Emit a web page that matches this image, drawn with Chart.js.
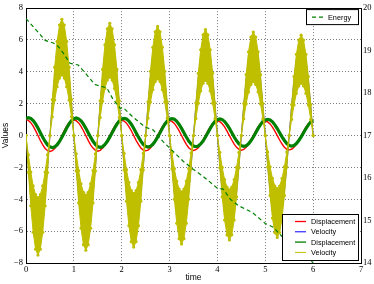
<!DOCTYPE html>
<html>
<head>
<meta charset="utf-8">
<script src="https://cdn.jsdelivr.net/npm/chart.js@4.4.0/dist/chart.umd.min.js"></script>
<style>
  html, body { margin: 0; padding: 0; background: #fff; }
  #wrap { width: 374px; height: 284px; }
</style>
</head>
<body>
<div id="wrap"><canvas id="chart" width="374" height="284"></canvas></div>
<script>
// sample times of the oscillator series
const time = [
  0,0.05,0.1,0.15,0.2,0.25,0.3,0.35,0.4,0.45,0.5,0.55,0.6,0.65,0.7,0.75,0.8,0.85,0.9,0.95,
  1,1.05,1.1,1.15,1.2,1.25,1.3,1.35,1.4,1.45,1.5,1.55,1.6,1.65,1.7,1.75,1.8,1.85,1.9,1.95,
  2,2.05,2.1,2.15,2.2,2.25,2.3,2.35,2.4,2.45,2.5,2.55,2.6,2.65,2.7,2.75,2.8,2.85,2.9,2.95,
  3,3.05,3.1,3.15,3.2,3.25,3.3,3.35,3.4,3.45,3.5,3.55,3.6,3.65,3.7,3.75,3.8,3.85,3.9,3.95,
  4,4.05,4.1,4.15,4.2,4.25,4.3,4.35,4.4,4.45,4.5,4.55,4.6,4.65,4.7,4.75,4.8,4.85,4.9,4.95,
  5,5.05,5.1,5.15,5.2,5.25,5.3,5.35,5.4,5.45,5.5,5.55,5.6,5.65,5.7,5.75,5.8,5.85,5.9,5.95,
  6
];

// red
const displacement = [
  1.00,0.95,0.81,0.59,0.31,0.00,-0.31,-0.59,-0.81,-0.95,-1.00,-0.95,-0.81,-0.59,-0.31,0.00,0.31,0.59,0.81,0.95,
  0.98,0.93,0.79,0.58,0.30,0.00,-0.30,-0.58,-0.79,-0.93,-0.98,-0.93,-0.79,-0.58,-0.30,0.00,0.30,0.58,0.79,0.93,
  0.96,0.91,0.78,0.56,0.30,0.00,-0.30,-0.56,-0.78,-0.91,-0.96,-0.91,-0.78,-0.56,-0.30,0.00,0.30,0.56,0.78,0.91,
  0.94,0.89,0.76,0.55,0.29,0.00,-0.29,-0.55,-0.76,-0.89,-0.94,-0.89,-0.76,-0.55,-0.29,0.00,0.29,0.55,0.76,0.89,
  0.92,0.87,0.74,0.54,0.28,0.00,-0.28,-0.54,-0.74,-0.87,-0.92,-0.87,-0.74,-0.54,-0.28,0.00,0.28,0.54,0.74,0.87,
  0.90,0.86,0.73,0.53,0.28,0.00,-0.28,-0.53,-0.73,-0.86,-0.90,-0.86,-0.73,-0.53,-0.28,0.00,0.28,0.53,0.73,0.86,
  0.89
];

// blue
const velocity = [
  0,-1.98,-3.76,-5.18,-6.09,-6.40,-6.09,-5.18,-3.76,-1.98,0,1.98,3.76,5.18,6.09,6.40,6.09,5.18,3.76,1.98,
  0,-1.95,-3.70,-5.10,-5.99,-6.30,-5.99,-5.10,-3.70,-1.95,0,1.95,3.70,5.10,5.99,6.30,5.99,5.10,3.70,1.95,
  0,-1.92,-3.65,-5.02,-5.90,-6.20,-5.90,-5.02,-3.65,-1.92,0,1.92,3.65,5.02,5.90,6.20,5.90,5.02,3.65,1.92,
  0,-1.88,-3.59,-4.93,-5.80,-6.10,-5.80,-4.93,-3.59,-1.88,0,1.88,3.59,4.93,5.80,6.10,5.80,4.93,3.59,1.88,
  0,-1.85,-3.53,-4.85,-5.71,-6.00,-5.71,-4.85,-3.53,-1.85,0,1.85,3.53,4.85,5.71,6.00,5.71,4.85,3.53,1.85,
  0,-1.82,-3.47,-4.77,-5.61,-5.90,-5.61,-4.77,-3.47,-1.82,0,1.82,3.47,4.77,5.61,5.90,5.61,4.77,3.47,1.82,
  0
];

// green (thick, with markers)
const displacementNum = [
  1.07,1.12,1.07,0.94,0.73,0.47,0.18,-0.11,-0.37,-0.58,-0.71,-0.76,-0.71,-0.58,-0.37,-0.11,0.18,0.47,0.73,0.94,
  1.05,1.10,1.05,0.92,0.72,0.46,0.18,-0.10,-0.36,-0.56,-0.70,-0.74,-0.70,-0.56,-0.36,-0.10,0.18,0.46,0.72,0.92,
  1.04,1.08,1.04,0.91,0.71,0.46,0.18,-0.10,-0.35,-0.55,-0.68,-0.72,-0.68,-0.55,-0.35,-0.10,0.18,0.46,0.71,0.91,
  1.02,1.06,1.02,0.89,0.70,0.45,0.18,-0.09,-0.34,-0.53,-0.66,-0.70,-0.66,-0.53,-0.34,-0.09,0.18,0.45,0.70,0.89,
  1.00,1.04,1.00,0.88,0.69,0.45,0.18,-0.09,-0.33,-0.52,-0.64,-0.68,-0.64,-0.52,-0.33,-0.09,0.18,0.45,0.69,0.88,
  0.98,1.02,0.98,0.86,0.67,0.44,0.18,-0.08,-0.31,-0.50,-0.62,-0.66,-0.62,-0.50,-0.31,-0.08,0.18,0.44,0.67,0.86,
  0.98
];

// yellow noisy velocity: outer and inner edge of the band
const velocityNumOuter = [
  0,-2.32,-4.41,-6.07,-7.13,-7.50,-7.13,-6.07,-4.41,-2.32,0,2.26,4.29,5.91,6.94,7.30,6.94,5.91,4.29,2.26,
  0,-2.22,-4.23,-5.82,-6.85,-7.20,-6.85,-5.82,-4.23,-2.22,0,2.18,4.15,5.70,6.70,7.05,6.70,5.70,4.15,2.18,
  0,-2.16,-4.12,-5.66,-6.66,-7.00,-6.66,-5.66,-4.12,-2.16,0,2.12,4.03,5.54,6.51,6.85,6.51,5.54,4.03,2.12,
  0,-2.10,-4.00,-5.50,-6.47,-6.80,-6.47,-5.50,-4.00,-2.10,0,2.05,3.91,5.38,6.32,6.65,6.32,5.38,3.91,2.05,
  0,-2.02,-3.85,-5.30,-6.23,-6.55,-6.23,-5.30,-3.85,-2.02,0,2.01,3.82,5.26,6.18,6.50,6.18,5.26,3.82,2.01,
  0,-1.98,-3.76,-5.18,-6.09,-6.40,-6.09,-5.18,-3.76,-1.98,0,1.95,3.70,5.10,5.99,6.30,5.99,5.10,3.70,1.95,
  0
];
const velocityNumInner = [
  0,-1.21,-2.29,-3.16,-3.71,-3.90,-3.71,-3.16,-2.29,-1.21,0,1.18,2.23,3.07,3.61,3.80,3.61,3.07,2.23,1.18,
  0,-1.15,-2.20,-3.03,-3.56,-3.74,-3.56,-3.03,-2.20,-1.15,0,1.13,2.16,2.96,3.48,3.67,3.48,2.96,2.16,1.13,
  0,-1.12,-2.14,-2.94,-3.46,-3.64,-3.46,-2.94,-2.14,-1.12,0,1.10,2.10,2.88,3.39,3.56,3.39,2.88,2.10,1.10,
  0,-1.09,-2.08,-2.86,-3.36,-3.54,-3.36,-2.86,-2.08,-1.09,0,1.07,2.03,2.80,3.29,3.46,3.29,2.80,2.03,1.07,
  0,-1.05,-2.00,-2.76,-3.24,-3.41,-3.24,-2.76,-2.00,-1.05,0,1.05,1.99,2.74,3.21,3.38,3.21,2.74,1.99,1.05,
  0,-1.03,-1.96,-2.69,-3.17,-3.33,-3.17,-2.69,-1.96,-1.03,0,1.01,1.92,2.65,3.11,3.28,3.11,2.65,1.92,1.01,
  0
];

// energy on the right axis
const energyTime = [0,0.2,0.4,0.57,0.67,0.78,0.92,1.09,1.27,1.44,1.69,1.82,1.97,2.03,2.24,2.49,2.66,2.87,3.08,3.29,3.5,3.7,4.0,4.12,4.27,4.44,4.73,5.0,5.17,5.46,5.73,5.88,6.0];
const energy =     [19.75,19.5,19.24,19.18,19.1,18.94,18.7,18.66,18.43,18.2,18.12,17.85,17.64,17.66,17.43,17.2,17.13,16.85,16.62,16.39,16.2,16.04,15.76,15.74,15.5,15.35,15.19,14.93,14.84,14.49,14.35,14.14,14.0];

const xTicks = [0,1,2,3,4,5,6,7];
const yTicks = [-8,-6,-4,-2,0,2,4,6,8];
const y2Ticks = [14,15,16,17,18,19,20];

const RED = '#ff0000', BLUE = '#0000ff', GREEN = '#008000', YELLOW = '#bfbf00';

function pts(xs, ys) { return xs.map((x, i) => ({ x: x, y: ys[i] })); }
function minus(v) { return v < 0 ? '\u2212' + Math.abs(v) : String(v); }

const tickFont = { family: '"Liberation Serif", serif', size: 8.5 };
const labelFont = { family: '"Liberation Sans", Arial, sans-serif', size: 8.5 };
const dotted = { color: '#5a5a5a', lineWidth: 0.8 };

// two matplotlib style legend boxes
const legendBoxes = {
  id: 'legendBoxes',
  afterDraw(chart) {
    const ctx = chart.ctx;
    const a = chart.chartArea;
    const ds = chart.data.datasets;
    function box(x, y, w, h) {
      ctx.fillStyle = '#fff';
      ctx.fillRect(x, y, w, h);
      ctx.strokeStyle = '#000';
      ctx.lineWidth = 1;
      ctx.strokeRect(x + 0.5, y + 0.5, w, h);
    }
    function entry(d, x, y, text) {
      ctx.save();
      ctx.strokeStyle = d.borderColor;
      ctx.lineWidth = Math.min(d.borderWidth, 1.3);
      ctx.setLineDash(d.borderDash || []);
      ctx.beginPath();
      ctx.moveTo(x, y);
      ctx.lineTo(x + 11, y);
      ctx.stroke();
      ctx.restore();
      ctx.fillStyle = '#000';
      ctx.fillText(text, x + 16, y + 0.5);
    }
    ctx.save();
    ctx.font = '7.3px "Liberation Sans", Arial, sans-serif';
    ctx.textBaseline = 'middle';
    box(a.right - 55, a.top + 1, 52, 15);
    entry(ds[0], a.right - 49, a.top + 9, ds[0].label);
    box(a.right - 79, a.bottom - 49, 76, 46);
    const order = [5, 4, 3, 1];
    order.forEach((i, r) => entry(ds[i], a.right - 66, a.bottom - 41.5 + r * 10.3, ds[i].label));
    ctx.restore();
  }
};

new Chart(document.getElementById('chart'), {
  type: 'line',
  data: {
    datasets: [
      { label: 'Energy', data: pts(energyTime, energy), yAxisID: 'y2', borderColor: GREEN, borderWidth: 1.2,
        borderDash: [4, 3], pointRadius: 0, order: 0 },
      { label: 'Velocity', data: pts(time, velocityNumOuter), yAxisID: 'y', borderColor: YELLOW, borderWidth: 1,
        backgroundColor: YELLOW, fill: '+1', pointRadius: 1.6, pointBackgroundColor: YELLOW,
        pointBorderWidth: 0, order: 1 },
      { label: 'Velocity inner', data: pts(time, velocityNumInner), yAxisID: 'y', borderColor: YELLOW, borderWidth: 1,
        pointRadius: 1.6, pointBackgroundColor: YELLOW, pointBorderWidth: 0, fill: false, order: 2 },
      { label: 'Displacement', data: pts(time, displacementNum), yAxisID: 'y', borderColor: GREEN, borderWidth: 3.2,
        pointRadius: 0, order: 3 },
      { label: 'Velocity', data: pts(time, velocity), yAxisID: 'y', borderColor: BLUE, borderWidth: 1,
        pointRadius: 0, order: 4 },
      { label: 'Displacement', data: pts(time, displacement), yAxisID: 'y', borderColor: RED, borderWidth: 1.4,
        pointRadius: 0, order: 5 }
    ]
  },
  options: {
    responsive: false,
    animation: false,
    devicePixelRatio: 1,
    layout: { padding: { top: 4, left: 0, right: 0, bottom: 0 } },
    elements: { line: { tension: 0 } },
    plugins: { legend: { display: false }, tooltip: { enabled: false } },
    scales: {
      x: {
        type: 'linear', position: 'bottom', min: 0, max: 7,
        afterBuildTicks: s => { s.ticks = xTicks.map(v => ({ value: v })); },
        afterFit: s => { s.height = 21; },
        ticks: { font: tickFont, color: '#000', padding: 2, maxRotation: 0 },
        grid: Object.assign({ drawTicks: false }, dotted),
        border: { display: true, color: '#000', width: 1, dash: [1, 2] },
        title: { display: true, text: 'time', font: labelFont, color: '#000', padding: { top: 0, bottom: 1 } }
      },
      xTop: {
        type: 'linear', position: 'top', min: 0, max: 7,
        afterFit: s => { s.height = 0; },
        ticks: { display: false },
        grid: { drawOnChartArea: false, drawTicks: false },
        border: { display: true, color: '#000', width: 1 }
      },
      y: {
        type: 'linear', position: 'left', min: -8, max: 8,
        afterBuildTicks: s => { s.ticks = yTicks.map(v => ({ value: v })); },
        afterFit: s => { s.width = 26; },
        ticks: { font: tickFont, color: '#000', padding: 3, callback: v => minus(v) },
        grid: Object.assign({ drawTicks: false }, dotted),
        border: { display: true, color: '#000', width: 1, dash: [1, 2] },
        title: { display: true, text: 'Values', font: labelFont, color: '#000', padding: { top: 1, bottom: 0 } }
      },
      y2: {
        type: 'linear', position: 'right', min: 14, max: 20,
        afterBuildTicks: s => { s.ticks = y2Ticks.map(v => ({ value: v })); },
        afterFit: s => { s.width = 13; },
        ticks: { font: tickFont, color: '#000', padding: 2 },
        grid: { drawOnChartArea: false, drawTicks: false },
        border: { display: true, color: '#000', width: 1 }
      }
    }
  },
  plugins: [legendBoxes]
});
</script>
</body>
</html>
